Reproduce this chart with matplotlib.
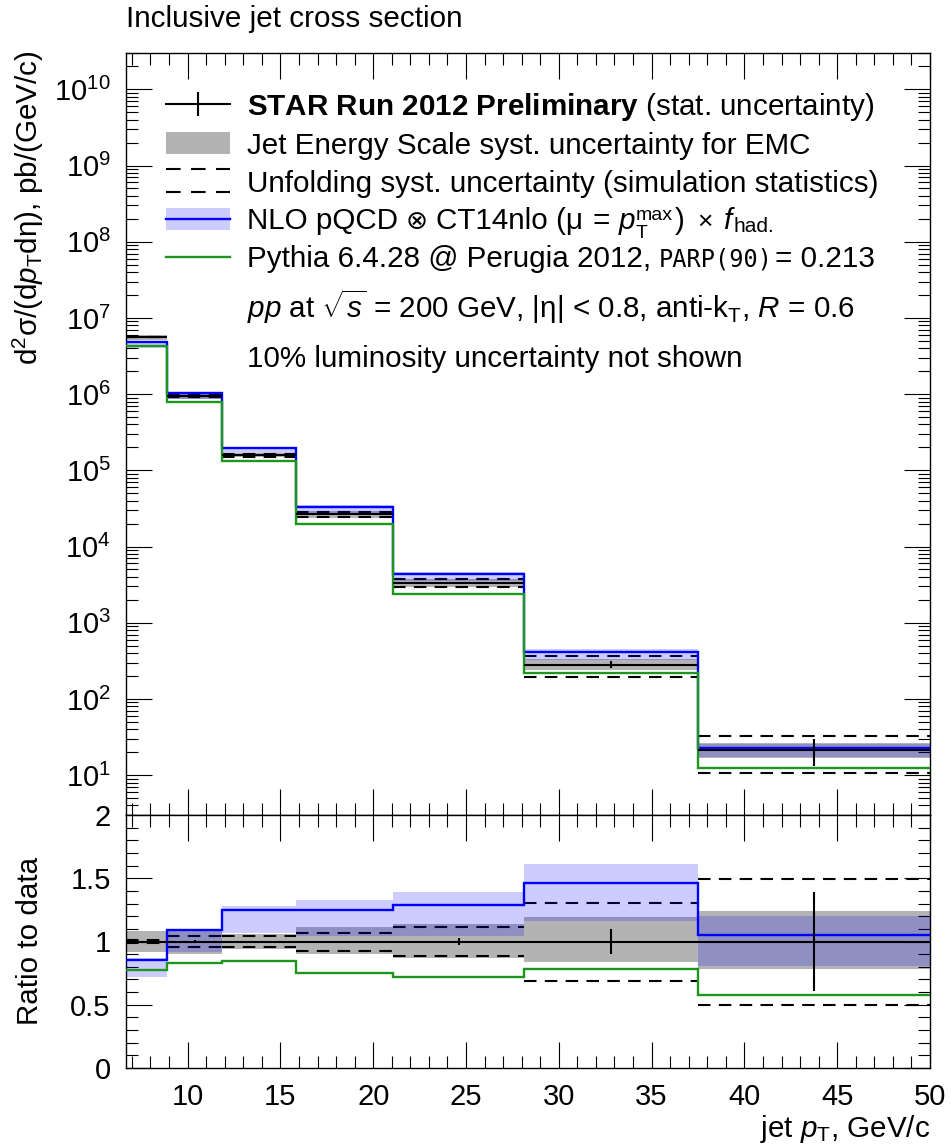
import numpy as np
import matplotlib.pyplot as plt
from matplotlib.ticker import MultipleLocator, LogLocator, NullFormatter, LogFormatterMathtext, FormatStrFormatter
from matplotlib.transforms import Affine2D
from matplotlib.patches import Rectangle

plt.rcParams['font.family'] = ['Liberation Sans', 'DejaVu Sans']
plt.rcParams['mathtext.fontset'] = 'custom'
plt.rcParams['mathtext.rm'] = 'Liberation Sans'
plt.rcParams['mathtext.it'] = 'Liberation Sans:italic'
plt.rcParams['mathtext.bf'] = 'Liberation Sans:bold'
plt.rcParams['mathtext.sf'] = 'Liberation Sans'
plt.rcParams['mathtext.tt'] = 'Liberation Mono'

# bin edges and data points (jet pT, GeV/c)
edges = np.array([6.68, 8.9, 11.87, 15.82, 21.09, 28.13, 37.5, 50.0])
x_pts = np.array([7.75, 10.4, 13.85, 18.45, 24.6, 32.8, 43.75])
# measured cross section, pb/(GeV/c)
data = np.array([5.6e6, 9.5e5, 1.58e5, 2.67e4, 3.35e3, 282.0, 21.5])
stat_rel = np.array([0.004, 0.01, 0.004, 0.004, 0.029, 0.10, 0.395])
# systematics relative to data
jes_lo = np.array([0.918, 0.898, 0.937, 0.898, 0.871, 0.84, 0.782])
jes_hi = np.array([1.083, 1.085, 1.06, 1.113, 1.136, 1.19, 1.239])
unf_lo = np.array([0.992, 0.953, 0.953, 0.926, 0.882, 0.69, 0.498])
unf_hi = np.array([1.008, 1.044, 1.044, 1.071, 1.115, 1.304, 1.496])
# theory / data
nlo = np.array([0.853, 1.094, 1.246, 1.252, 1.29, 1.464, 1.055])
nlo_lo = np.array([0.717, 0.918, 1.065, 1.04, 1.042, 1.16, 0.806])
nlo_hi = np.array([0.87, 1.10, 1.278, 1.325, 1.39, 1.609, 1.2])
pythia = np.array([0.774, 0.832, 0.843, 0.748, 0.717, 0.782, 0.577])

GRAY = '#b3b3b3'
BLUE = '#0000ff'
GREEN = '#1e961e'
DASH = (0, (6, 4))
FS = 21.3
SMALL = 14

W, H = 953, 1146
fig = plt.figure(figsize=(W / 100, H / 100), dpi=100)
pix = Affine2D().scale(1 / W, -1 / H).translate(0, 1) + fig.transFigure

ax1 = fig.add_axes([126 / W, 1 - 815 / H, 804 / W, 762 / H])
ax2 = fig.add_axes([126 / W, 1 - 1068 / H, 804 / W, 253 / H])


def draw(ax, scale):
    lo, hi = edges[:-1], edges[1:]
    ax.stairs(scale * jes_hi, edges, baseline=scale * jes_lo, fill=True, color=GRAY, lw=0, zorder=1)
    ax.hlines(scale * unf_hi, lo, hi, colors='k', linestyles=DASH, lw=1.5, zorder=2)
    ax.hlines(scale * unf_lo, lo, hi, colors='k', linestyles=DASH, lw=1.5, zorder=2)
    ax.stairs(scale * nlo_hi, edges, baseline=scale * nlo_lo, fill=True, color=BLUE, alpha=0.2, lw=0, zorder=3)
    ax.stairs(scale * nlo, edges, baseline=None, color=BLUE, lw=1.7, zorder=4)
    ax.stairs(scale * pythia, edges, baseline=None, color=GREEN, lw=1.7, zorder=5)
    ax.hlines(scale, lo, hi, colors='k', lw=1.5, zorder=6)
    ax.errorbar(x_pts, scale * np.ones_like(data), yerr=scale * stat_rel, fmt='none',
                ecolor='k', elinewidth=1.5, capsize=0, zorder=6)


draw(ax1, data)
draw(ax2, np.ones_like(data))

for ax in (ax1, ax2):
    ax.set_xlim(edges[0], edges[-1])
    ax.xaxis.set_major_locator(MultipleLocator(5))
    ax.xaxis.set_minor_locator(MultipleLocator(1))
    ax.tick_params(which='both', direction='in', top=True, right=True, width=0.8, labelsize=21)
    ax.tick_params(which='major', length=19, pad=11)
    ax.tick_params(which='minor', length=8.5)
    for s in ax.spines.values():
        s.set_linewidth(1.0)

ax1.set_yscale('log')
ax1.set_ylim(3, 3e10)
ax1.yaxis.set_major_locator(LogLocator(base=10, numticks=20))
ax1.yaxis.set_major_formatter(LogFormatterMathtext())
ax1.yaxis.set_minor_locator(LogLocator(base=10, subs=np.arange(2, 10), numticks=20))
ax1.yaxis.set_minor_formatter(NullFormatter())
ax1.tick_params(labelbottom=False)

ax2.set_ylim(0, 2)
ax2.yaxis.set_major_locator(MultipleLocator(0.5))
ax2.yaxis.set_minor_locator(MultipleLocator(0.1))
ax2.yaxis.set_major_formatter(FormatStrFormatter('%g'))

# titles and axis labels
fig.text(126, 27, 'Inclusive jet cross section', transform=pix, fontsize=FS, ha='left', va='baseline')
fig.text(28, 50, 'd$^2$σ/(d$p_\\mathrm{T}$dη), pb/(GeV/c)', transform=pix, fontsize=FS,
         rotation=90, ha='center', va='top')
fig.text(30, 941, 'Ratio to data', transform=pix, fontsize=FS, rotation=90, ha='center', va='center')
fig.text(930, 1137, 'jet $p_\\mathrm{T}$, GeV/c', transform=pix, fontsize=FS, ha='right', va='baseline')

# legend glyphs
fig.add_artist(plt.Line2D([166, 230], [104, 104], color='k', lw=1.5, transform=pix))
fig.add_artist(plt.Line2D([198, 198], [93, 115], color='k', lw=1.5, transform=pix))
fig.add_artist(Rectangle((166, 132), 64, 22, color=GRAY, lw=0, transform=pix))
for yy in (169, 192):
    fig.add_artist(plt.Line2D([166, 230], [yy, yy], color='k', lw=1.5, linestyle=(0, (7, 5)), transform=pix))
fig.add_artist(Rectangle((166, 208), 64, 22, color=BLUE, alpha=0.2, lw=0, transform=pix))
fig.add_artist(plt.Line2D([166, 230], [219, 219], color=BLUE, lw=1.7, transform=pix))
fig.add_artist(plt.Line2D([166, 230], [257, 257], color=GREEN, lw=1.7, transform=pix))

renderer = fig.canvas.get_renderer()
SPACE = 8


def text_row(y, parts):
    # each part: (string, gap after in px, text kwargs, vertical shift in px, advance x)
    x = 247
    for s, gap, kw, dy, advance in parts:
        kw = dict(dict(fontsize=FS), **kw)
        t = fig.text(x, y + dy, s, transform=pix, ha='left', va='baseline', **kw)
        if advance:
            x += t.get_window_extent(renderer=renderer).width + gap


text_row(115, [(r'$\mathbf{STAR\ Run\ 2012\ Preliminary}$ (stat. uncertainty)', 0, {}, 0, True)])
text_row(154, [('Jet Energy Scale syst. uncertainty for EMC', 0, {}, 0, True)])
text_row(192, [('Unfolding syst. uncertainty (simulation statistics)', 0, {}, 0, True)])
text_row(229, [('NLO pQCD', SPACE, {}, 0, True),
               ('\u2297', SPACE, {'family': 'DejaVu Sans', 'fontsize': 19}, 0, True),
               ('CT14nlo (μ', 9, {}, 0, True),
               ('=', 9, {}, 0, True),
               ('p', 1, {'style': 'italic'}, 0, True),
               ('T', 0, {'fontsize': SMALL}, 9, False),
               ('max', 2, {'fontsize': SMALL}, -9, True),
               (')', 12, {}, 0, True),
               ('×', 12, {'fontsize': 19}, 0, True),
               ('f', 1, {'style': 'italic'}, 0, True),
               ('had.', 0, {'fontsize': SMALL + 1}, 3, True)])
text_row(267, [('Pythia 6.4.28 @ Perugia 2012,', SPACE, {}, 0, True),
               ('PARP(90)', 2, {'family': 'DejaVu Sans Mono', 'fontsize': 17}, 0, True),
               ('= 0.213', 0, {}, 0, True)])
text_row(318, [('$pp$ at $\\sqrt{s}$ = 200 GeV, |η| < 0.8, anti-k$_\\mathrm{T}$, $R$ = 0.6', 0, {}, 0, True)])
text_row(367, [('10% luminosity uncertainty not shown', 0, {}, 0, True)])

fig.savefig('out.png', dpi=100)
